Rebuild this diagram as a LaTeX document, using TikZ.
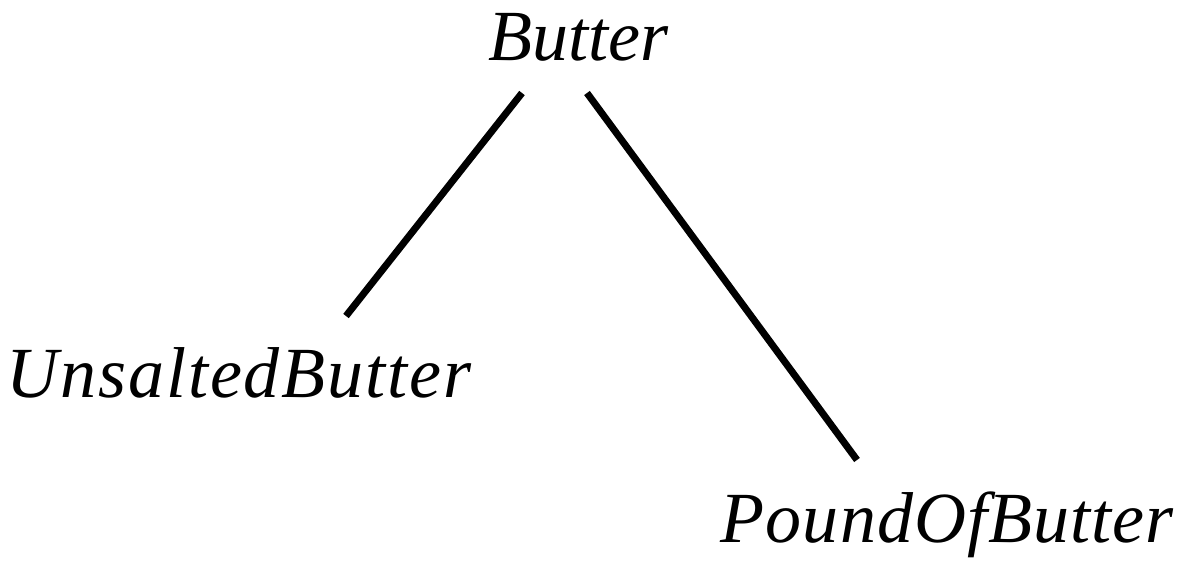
\documentclass[tikz,border=0pt]{standalone}
\usepackage{fontspec}
\setmainfont{Liberation Serif}
\newfontfamily\widefont[LetterSpace=2.6]{Liberation Serif}
\newfontfamily\midfont[LetterSpace=1.4]{Liberation Serif}
\begin{document}
\begin{tikzpicture}[x=0.5pt,y=-0.5pt,
  lbl/.style={anchor=base,inner sep=0pt,font=\fontsize{36}{36}\selectfont\itshape},
  conn/.style={line width=3.5pt}]
\useasboundingbox (0,0) rectangle (1184,562);
\node[lbl] (b) at (578,61) {Butter};
\node[lbl,font=\widefont\fontsize{36}{36}\selectfont\itshape] (u) at (239,397) {UnsaltedButter};
\node[lbl,font=\midfont\fontsize{36}{36}\selectfont\itshape] (p) at (947,542) {PoundOfButter};
\coordinate (bl) at (522,93);
\coordinate (br) at (587,93);
\coordinate (ut) at (346,316);
\coordinate (pt) at (857,460);
\draw[conn] (bl) -- (ut);
\draw[conn] (br) -- (pt);
\end{tikzpicture}
\end{document}
